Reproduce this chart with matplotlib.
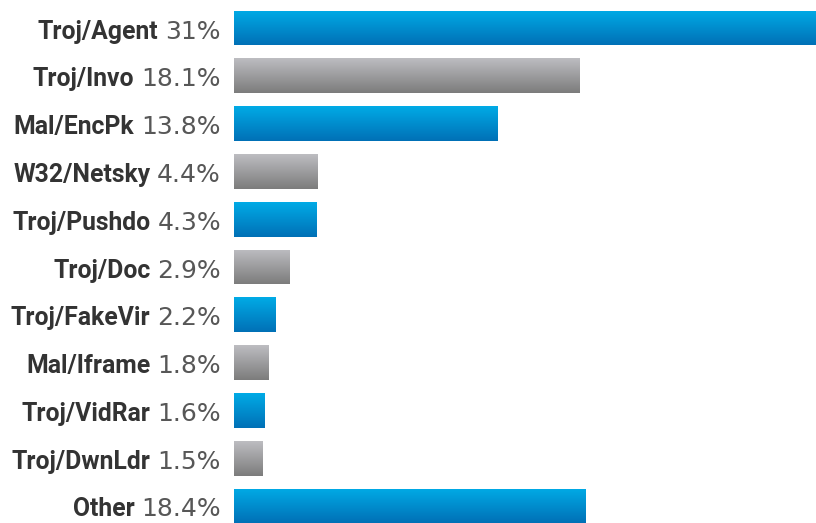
import numpy as np
import matplotlib
matplotlib.use("Agg")
import matplotlib.pyplot as plt
from matplotlib import font_manager
from matplotlib.colors import LinearSegmentedColormap

names = ["Troj/Agent", "Troj/Invo", "Mal/EncPk", "W32/Netsky", "Troj/Pushdo",
         "Troj/Doc", "Troj/FakeVir", "Mal/Iframe", "Troj/VidRar", "Troj/DwnLdr", "Other"]
values = [31, 18.1, 13.8, 4.4, 4.3, 2.9, 2.2, 1.8, 1.6, 1.5, 18.4]
value_labels = ["31%", "18.1%", "13.8%", "4.4%", "4.3%", "2.9%", "2.2%", "1.8%", "1.6%", "1.5%", "18.4%"]

installed = {f.name for f in font_manager.fontManager.ttflist}
name_family = next((f for f in ["Roboto", "Liberation Sans Narrow", "DejaVu Sans"] if f in installed),
                   "DejaVu Sans")

W, H = 816, 523
fig = plt.figure(figsize=(W / 100, H / 100), dpi=100)
left = 234 / W
ax = fig.add_axes([left, 0, 1 - left, 1])
ax.set_xlim(0, (W - 234) / 19.08)
pitch = 47.8
c0 = 28
ax.set_ylim((H - c0) / pitch, -c0 / pitch)
ax.axis("off")

blue = LinearSegmentedColormap.from_list("b", ["#00abe6", "#0070b6"])
gray = LinearSegmentedColormap.from_list("g", ["#bdbdc1", "#7c7c7c"])
grad = np.linspace(0, 1, 256).reshape(-1, 1)

y = np.arange(len(names))
bars = ax.barh(y, values, height=0.73, color="none", edgecolor="none")
for i, b in enumerate(bars):
    cmap = blue if i % 2 == 0 else gray
    x0, y0 = b.get_x(), b.get_y()
    w, h = b.get_width(), b.get_height()
    im = ax.imshow(grad, cmap=cmap, aspect="auto",
                   extent=[x0, x0 + w, y0 + h, y0], origin="upper", zorder=2)
    im.set_clip_path(b)

fig.canvas.draw()
r = fig.canvas.get_renderer()

# size the bold name font so "W32/Netsky" is about 137 px wide (max 18 pt)
probe = fig.text(0, 0, names[3], family=name_family, weight="bold", size=16)
pw = probe.get_window_extent(r).width
probe.remove()
name_size = min(18, 16 * 137 / pw)

name_font = dict(family=[name_family, "DejaVu Sans"], weight="bold",
                 size=name_size, color="#333333")
pct_font = dict(family=["DejaVu Sans"], size=18, color="#575757")
for i in range(len(names)):
    ty = ax.transData.transform((0, y[i]))[1] - 1
    t = fig.text(221 / W, ty / H, value_labels[i], ha="right", va="center_baseline", **pct_font)
    bb = t.get_window_extent(r)
    fig.text((bb.x0 - 7) / W, ty / H, names[i], ha="right", va="center_baseline", **name_font)

fig.savefig("out.png", dpi=100)
